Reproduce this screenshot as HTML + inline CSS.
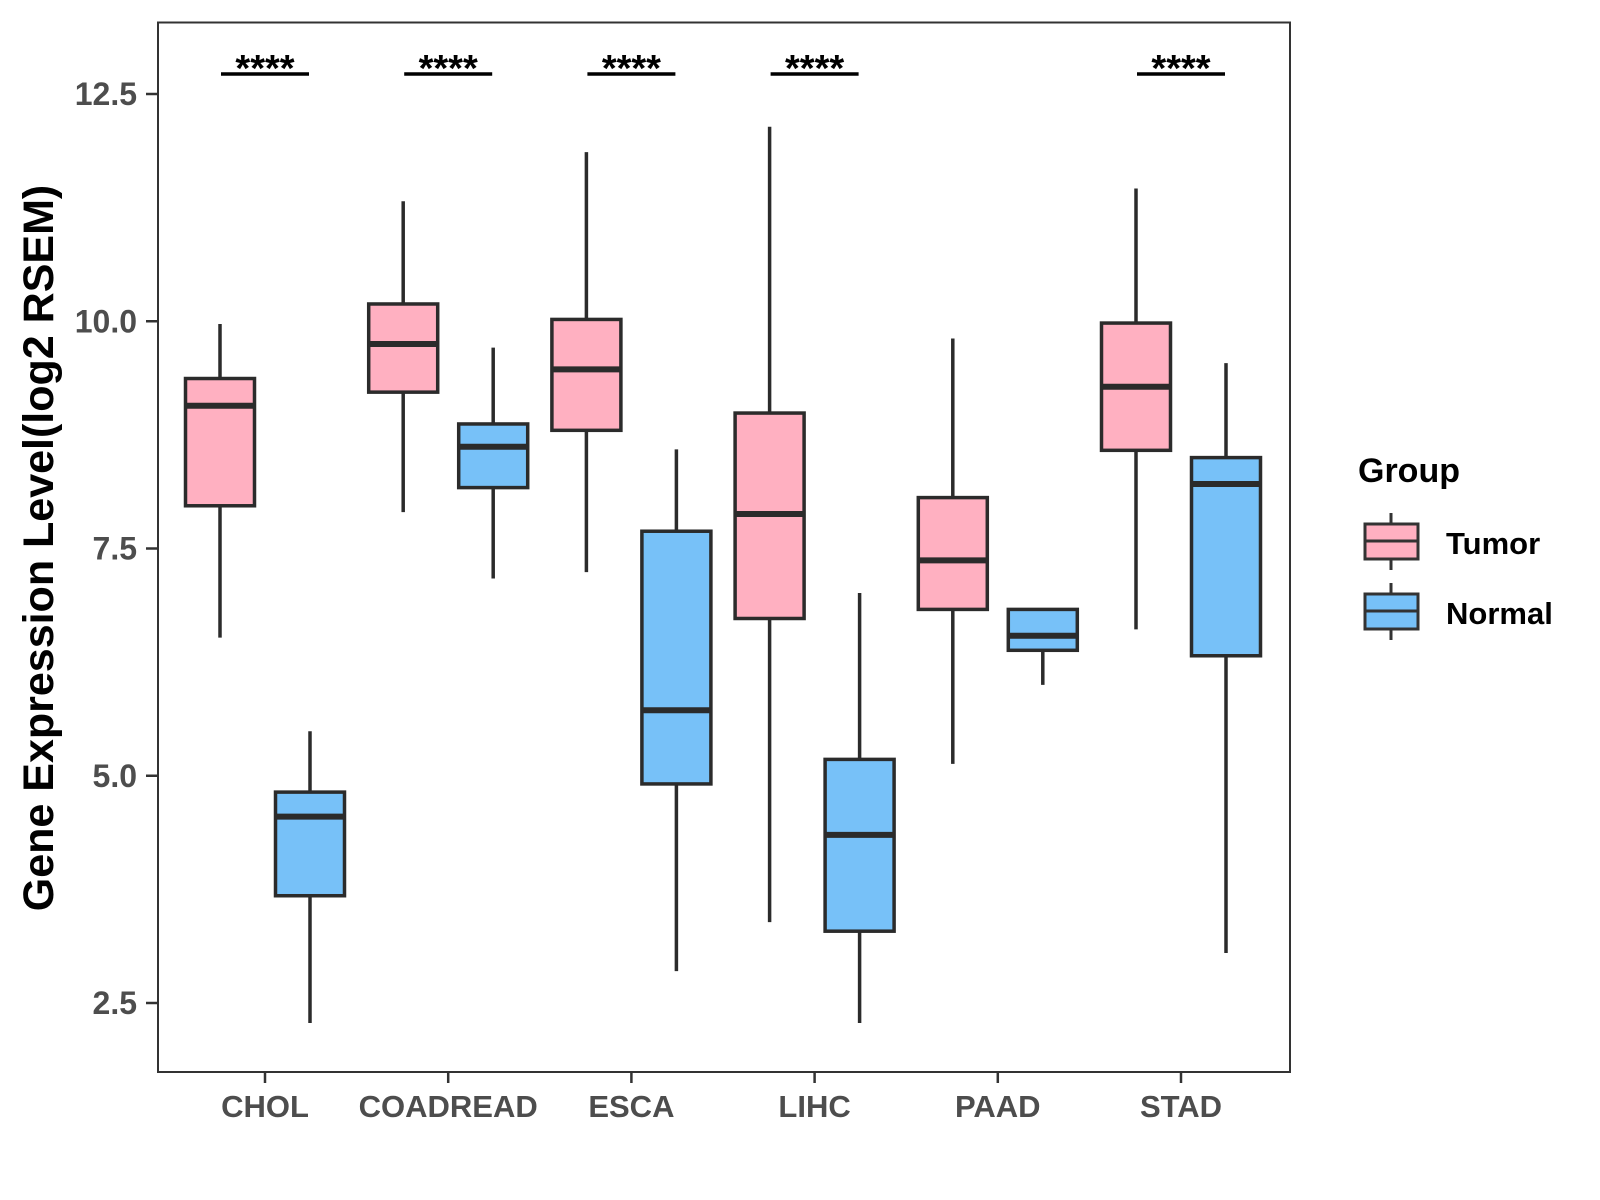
<!DOCTYPE html>
<html><head><meta charset="utf-8"><style>body{margin:0;background:#fff}svg{display:block}text{font-family:"Liberation Sans",sans-serif;font-weight:bold}</style></head>
<body>
<svg id="chart" width="1600" height="1200">
<rect x="158" y="22.5" width="1132" height="1049.5" fill="#fff" stroke="#333" stroke-width="2"/>
<g id="marks"></g>
<text transform="translate(53,548) rotate(-90)" text-anchor="middle" font-size="43" fill="#000">Gene Expression Level(log2 RSEM)</text>
<text x="1358" y="482" font-size="34" fill="#000">Group</text>
<g>
<line x1="1391" y1="513" x2="1391" y2="570" stroke="#333" stroke-width="3"/>
<rect x="1365" y="524" width="53" height="35" fill="#FFB0C1" stroke="#333" stroke-width="3"/>
<line x1="1365" y1="541" x2="1418" y2="541" stroke="#333" stroke-width="3"/>
<text x="1446" y="554" font-size="31" fill="#000">Tumor</text></g>
<g>
<line x1="1391" y1="583" x2="1391" y2="640" stroke="#333" stroke-width="3"/>
<rect x="1365" y="594" width="53" height="35" fill="#77C1F8" stroke="#333" stroke-width="3"/>
<line x1="1365" y1="611" x2="1418" y2="611" stroke="#333" stroke-width="3"/>
<text x="1446" y="624" font-size="31" fill="#000">Normal</text></g>
</svg>
<script>
const categories=["CHOL","COADREAD","ESCA","LIHC","PAAD","STAD"];
const tumorStats=[[6.52,7.97,9.07,9.37,9.97],[7.9,9.22,9.75,10.19,11.32],[7.24,8.8,9.47,10.02,11.86],[3.39,6.73,7.88,8.99,12.14],[5.13,6.83,7.37,8.06,9.81],[6.61,8.58,9.28,9.98,11.46]];
const normalStats=[[2.28,3.68,4.55,4.82,5.49],[7.17,8.17,8.62,8.87,9.71],[2.85,4.91,5.72,7.69,8.59],[2.28,3.29,4.35,5.18,7.01],[6.0,6.38,6.54,6.83,6.83],[3.05,6.32,8.21,8.5,9.54]];
const significance=["****","****","****","****","","****"];
const yTicks=[2.5,5.0,7.5,10.0,12.5];
const yTickLabels=["2.5","5.0","7.5","10.0","12.5"];
const NS="http://www.w3.org/2000/svg";
const y=v=>94+(12.5-v)*90.9;
const x=i=>265+i*183.2;
const svg=document.getElementById('marks');
function mk(t,a,p){const e=document.createElementNS(NS,t);for(const k in a)e.setAttribute(k,a[k]);(p||svg).appendChild(e);return e;}
yTicks.forEach((v,i)=>{
 const l=mk('line',{x1:146,x2:158,y1:y(v),y2:y(v),stroke:'#333','stroke-width':2.5});
 
 
 const t=mk('text',{x:137,y:y(v)+11,'text-anchor':'end','font-size':32,fill:'#4d4d4d'});t.textContent=yTickLabels[i];
 
 
});
function box(cx,s,fill,name){
 const g=mk('g',{});
 
 
 const w=69;
 mk('line',{x1:cx,x2:cx,y1:y(s[0]),y2:y(s[4]),stroke:'#2b2b2b','stroke-width':3.5},g);
 mk('rect',{x:cx-w/2,y:y(s[3]),width:w,height:y(s[1])-y(s[3]),fill:fill,stroke:'#2b2b2b','stroke-width':3.5},g);
 mk('line',{x1:cx-w/2,x2:cx+w/2,y1:y(s[2]),y2:y(s[2]),stroke:'#2b2b2b','stroke-width':6},g);
}
categories.forEach((c,i)=>{
 box(x(i)-45,tumorStats[i],'#FFB0C1','box-tumor-'+c.toLowerCase());
 box(x(i)+45,normalStats[i],'#77C1F8','box-normal-'+c.toLowerCase());
 const tk=mk('line',{x1:x(i),x2:x(i),y1:1072,y2:1083,stroke:'#333','stroke-width':2.5});
 
 
 const t=mk('text',{x:x(i),y:1117,'text-anchor':'middle','font-size':31,fill:'#4d4d4d'});t.textContent=c;
 
 
 if(significance[i]){
  const g=mk('g',{});
  
  
  mk('line',{x1:x(i)-44,x2:x(i)+44,y1:74,y2:74,stroke:'#000','stroke-width':3.5},g);
  const s=mk('text',{x:x(i),y:81,'text-anchor':'middle','font-size':38,fill:'#000'},g);s.textContent=significance[i];
 }
});
</script>
</body></html>
